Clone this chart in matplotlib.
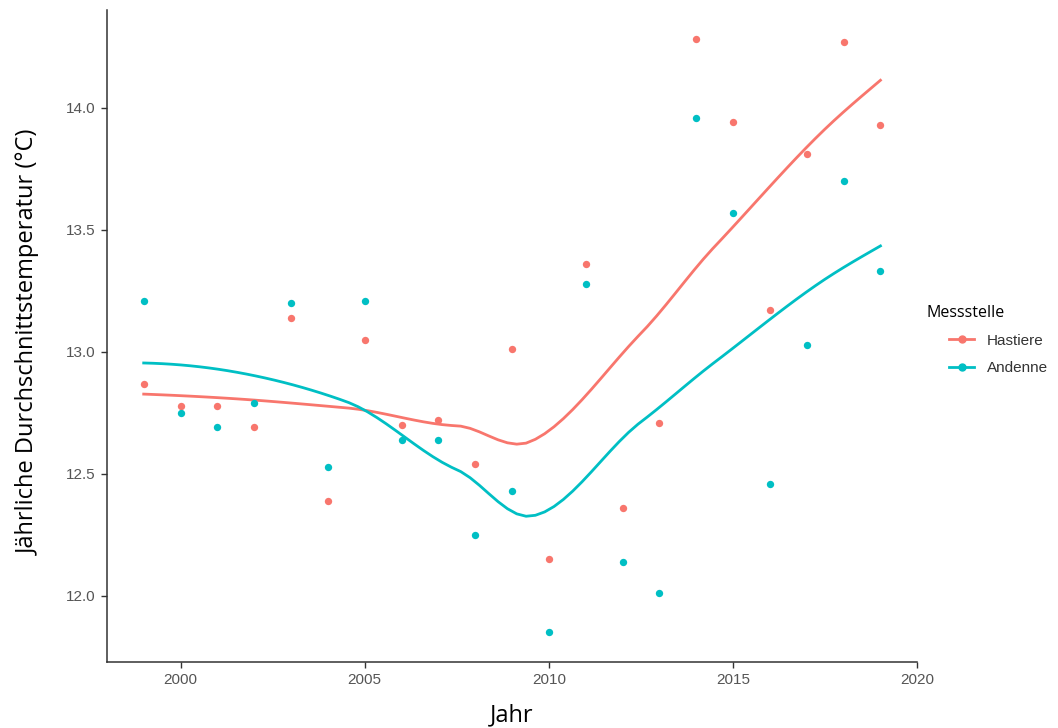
import numpy as np
import matplotlib
matplotlib.use("Agg")
import matplotlib.pyplot as plt
from matplotlib.lines import Line2D

# Jahresmittel der Wassertemperatur je Messstelle
jahre = np.arange(1999, 2020)
hastiere = [12.87, 12.78, 12.78, 12.69, 13.14, 12.39, 13.05, 12.70, 12.72, 12.54,
            13.01, 12.15, 13.36, 12.36, 12.71, 14.28, 13.94, 13.17, 13.81, 14.27, 13.93]
andenne = [13.21, 12.75, 12.69, 12.79, 13.20, 12.53, 13.21, 12.64, 12.64, 12.25,
           12.43, 11.85, 13.28, 12.14, 12.01, 13.96, 13.57, 12.46, 13.03, 13.70, 13.33]

stellen = ["Hastiere", "Andenne"]
farben = {"Hastiere": "#F8766D", "Andenne": "#00BFC4"}


def lokal_fit(x, y, x0, span):
    # lokale quadratische Regression mit Tricube-Gewichten -> Wert und Steigung
    q = int(np.floor(len(x) * span))
    d = np.abs(x - x0)
    h = np.sort(d)[q - 1]
    w = np.clip(1 - (d / h) ** 3, 0, None) ** 3
    X = np.column_stack([np.ones_like(x), x - x0, (x - x0) ** 2])
    W = np.sqrt(w)
    beta = np.linalg.lstsq(X * W[:, None], y * W, rcond=None)[0]
    return beta[0], beta[1]


def kd_grenzen(xs, l, u, fc):
    # Zellgrenzen wie beim kd-Baum von loess (surface = "interpolate")
    if u - l + 1 <= fc:
        return []
    m = (l + u) // 2
    t = (xs[m] + xs[m + 1]) / 2
    return kd_grenzen(xs, l, m, fc) + [t] + kd_grenzen(xs, m + 1, u, fc)


def loess(x, y, xs, span=0.75, cell=0.2):
    x = np.asarray(x, float)
    y = np.asarray(y, float)
    xsort = np.sort(x)
    fc = int(np.floor(len(x) * span * cell))
    mu = 0.005 * (x.max() - x.min())
    ecken = [x.min() - mu] + kd_grenzen(xsort, 0, len(x) - 1, fc) + [x.max() + mu]
    ecken = np.array(ecken)
    fits = np.array([lokal_fit(x, y, e, span) for e in ecken])
    out = []
    for x0 in xs:
        i = min(np.searchsorted(ecken, x0, side="right") - 1, len(ecken) - 2)
        a, b = ecken[i], ecken[i + 1]
        hh = b - a
        t = (x0 - a) / hh
        h00 = 2 * t**3 - 3 * t**2 + 1
        h10 = t**3 - 2 * t**2 + t
        h01 = -2 * t**3 + 3 * t**2
        h11 = t**3 - t**2
        out.append(h00 * fits[i, 0] + h10 * hh * fits[i, 1]
                   + h01 * fits[i + 1, 0] + h11 * hh * fits[i + 1, 1])
    return np.array(out)


fig = plt.figure(figsize=(10.58, 7.28), dpi=100)
ax = fig.add_axes([0.101, 0.091, 0.766, 0.895])

xs = np.linspace(jahre.min(), jahre.max(), 80)
for name, werte in zip(stellen, [hastiere, andenne]):
    ax.scatter(jahre, werte, s=28, color=farben[name], zorder=3, linewidths=0)
    ax.plot(xs, loess(jahre, werte, xs), color=farben[name], lw=2.0, zorder=2)

ax.set_xlim(1998, 2020)
ax.set_ylim(11.73, 14.40)
ax.set_xticks([2000, 2005, 2010, 2015, 2020])
ax.set_yticks([12.0, 12.5, 13.0, 13.5, 14.0])
ax.set_yticklabels(["12.0", "12.5", "13.0", "13.5", "14.0"])

for s in ["top", "right"]:
    ax.spines[s].set_visible(False)
for s in ["left", "bottom"]:
    ax.spines[s].set_color("#333333")
    ax.spines[s].set_linewidth(1.1)
ax.tick_params(length=4, width=1, color="#333333", labelcolor="#555555",
               labelsize=11, pad=4)
for lab in ax.get_xticklabels() + ax.get_yticklabels():
    lab.set_family("Liberation Sans")

ax.set_xlabel("Jahr", family="Open Sans", fontsize=17, labelpad=12)
ax.set_ylabel("Jährliche Durchschnittstemperatur (°C)", family="Open Sans",
              fontsize=17)
ax.yaxis.set_label_coords(-0.082, 0.49)

# Legende: Titel links, Schlüssel eingerückt
fig.text(0.876, 0.570, "Messstelle", family="Open Sans", fontsize=11.5,
         va="center", ha="left")
handles = [Line2D([0], [0], color=farben[n], lw=2, marker="o", markersize=5)
           for n in stellen]
leg = fig.legend(handles, stellen, loc="center left",
                 bbox_to_anchor=(0.897, 0.513), frameon=False,
                 prop={"family": "Liberation Sans", "size": 11},
                 handlelength=1.64, handletextpad=0.85, labelspacing=0.88,
                 borderpad=0, borderaxespad=0)
for t in leg.get_texts():
    t.set_color("#333333")

fig.savefig("out.png", dpi=100)
